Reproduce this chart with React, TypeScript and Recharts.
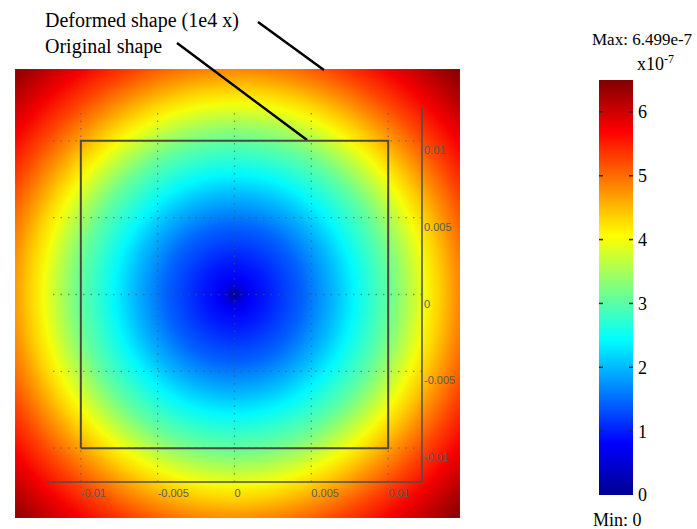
import React from 'react';
import { ComposedChart, BarChart, Bar, XAxis, YAxis, Scatter, ReferenceArea, ReferenceLine } from 'recharts';

// ---- data ----
const axisTicks = [-0.01, -0.005, 0, 0.005, 0.01];
const axisDomain = [-0.0122, 0.0122];
const originalShapeX = [-0.01, 0.01, 0.01, -0.01, -0.01];
const originalShapeY = [-0.01, -0.01, 0.01, 0.01, -0.01];
const deformedExtentX = [-0.01428, 0.01467];
const deformedExtentY = [-0.01454, 0.01467];
// radial profile of the displacement field (radius in m, value in 1e-7)
const profileRadius = [0, 0.0005, 0.001, 0.002, 0.003, 0.0045, 0.0065, 0.0078, 0.0091, 0.0101, 0.0114, 0.0124, 0.0133, 0.0144, 0.0159, 0.0176, 0.0192, 0.0207];
const profileValue = [0, 0.5, 0.75, 0.95, 1.15, 1.45, 2.0, 2.4, 2.8, 3.1, 3.6, 4.0, 4.35, 4.75, 5.25, 5.75, 6.15, 6.499];
const colorbarValues = [0, 0.81, 2.44, 4.06, 5.69, 6.499];
const colorbarColors = ['#00008f', '#0000ff', '#00ffff', '#ffff00', '#ff0000', '#800000'];
const colorbarTicks = [0, 1, 2, 3, 4, 5, 6];
const valueMax = 6.499;
const deformedPointer = [{ x: 0.00153, y: 0.01773 }, { x: 0.00582, y: 0.01461 }];
const originalPointer = [{ x: -0.00374, y: 0.01636 }, { x: 0.00472, y: 0.01005 }];

const originalShape = originalShapeX.map((x, i) => ({ x, y: originalShapeY[i] }));

function hexToRgb(h: string) {
  return [parseInt(h.slice(1, 3), 16), parseInt(h.slice(3, 5), 16), parseInt(h.slice(5, 7), 16)];
}
function colorAt(v: number) {
  let i = 0;
  while (i < colorbarValues.length - 2 && v > colorbarValues[i + 1]) i++;
  const t = Math.max(0, Math.min(1, (v - colorbarValues[i]) / (colorbarValues[i + 1] - colorbarValues[i])));
  const a = hexToRgb(colorbarColors[i]);
  const b = hexToRgb(colorbarColors[i + 1]);
  const c = a.map((ca, k) => Math.round(ca + (b[k] - ca) * t));
  return `rgb(${c[0]},${c[1]},${c[2]})`;
}

const HeatRect = (props: any) => {
  const { x, y, width, height } = props;
  const sx = width / (deformedExtentX[1] - deformedExtentX[0]);
  const sy = height / (deformedExtentY[1] - deformedExtentY[0]);
  const cx = x + (0 - deformedExtentX[0]) * sx;
  const cy = y + (deformedExtentY[1] - 0) * sy;
  const rMax = profileRadius[profileRadius.length - 1];
  const r = rMax * (sx + sy) / 2;
  return (
    <g>
      <defs>
        <radialGradient id="heatGrad" gradientUnits="userSpaceOnUse" cx={cx} cy={cy} r={r}>
          {profileRadius.map((pr, i) => (
            <stop key={i} offset={pr / rMax} stopColor={colorAt(profileValue[i])} />
          ))}
        </radialGradient>
      </defs>
      <rect x={x} y={y} width={width} height={height} fill="url(#heatGrad)" />
    </g>
  );
};

const XTick = (props: any) => {
  const { x, y, payload } = props;
  return (
    <text x={x} y={y + 15} textAnchor="start" fontFamily="'Liberation Sans', Arial, sans-serif" fontSize={11} fill="#5b5b5b">
      {String(payload.value)}
    </text>
  );
};
const YTick = (props: any) => {
  const { x, y, payload } = props;
  return (
    <text x={x} y={y + 13} textAnchor="start" fontFamily="'Liberation Sans', Arial, sans-serif" fontSize={11} fill="#5b5b5b">
      {String(payload.value)}
    </text>
  );
};

// colorbar: gradient bar with small tick dashes on both edges
const ColorbarShape = (props: any) => {
  const { x, y, width, height } = props;
  return (
    <g>
      <rect x={x} y={y} width={width} height={height} fill="url(#cbarGrad)" />
      {colorbarTicks.slice(1).map((t) => {
        const ty = y + height * (1 - t / valueMax);
        return (
          <g key={t}>
            <line x1={x} x2={x + 4} y1={ty} y2={ty} stroke="#2a2a2a" strokeWidth={1.5} />
            <line x1={x + width - 4} x2={x + width} y1={ty} y2={ty} stroke="#2a2a2a" strokeWidth={1.5} />
          </g>
        );
      })}
    </g>
  );
};

const serif = "'Liberation Serif', 'Times New Roman', serif";

export default function App() {
  return (
    <div style={{ position: 'absolute', left: 0, top: 0, width: 697, height: 529, background: '#fff' }}>
      <div style={{ position: 'absolute', left: 0, top: 0 }}>
        <ComposedChart width={697} height={529} margin={{ top: 107, right: 235, bottom: 17, left: 47 }}>
          <ReferenceArea
            x1={deformedExtentX[0]}
            x2={deformedExtentX[1]}
            y1={deformedExtentY[0]}
            y2={deformedExtentY[1]}
            ifOverflow="visible"
            shape={HeatRect}
          />
          {axisTicks.map((t) => (
            <ReferenceLine key={'gx' + t} x={t} stroke="#555" strokeWidth={1.3} strokeDasharray="1.5 6" strokeOpacity={0.6} />
          ))}
          {axisTicks.map((t) => (
            <ReferenceLine key={'gy' + t} y={t} stroke="#555" strokeWidth={1.3} strokeDasharray="1.5 6" strokeOpacity={0.6} />
          ))}
          <XAxis
            type="number"
            dataKey="x"
            domain={axisDomain}
            ticks={axisTicks}
            allowDataOverflow
            interval={0}
            height={30}
            axisLine={{ stroke: '#4d4d4d', strokeWidth: 1.5 }}
            tickLine={false}
            tickSize={0}
            tickMargin={0}
            tick={<XTick />}
          />
          <YAxis
            type="number"
            dataKey="y"
            orientation="right"
            domain={axisDomain}
            ticks={axisTicks}
            allowDataOverflow
            interval={0}
            width={40}
            axisLine={{ stroke: '#4d4d4d', strokeWidth: 1.5 }}
            tickLine={false}
            tickSize={0}
            tickMargin={2}
            tick={<YTick />}
          />
          <Scatter
            data={originalShape}
            line={{ stroke: '#4a4a40', strokeWidth: 2 }}
            shape={() => null}
            isAnimationActive={false}
          />
          <ReferenceLine segment={deformedPointer} ifOverflow="visible" stroke="#000" strokeWidth={2.5} />
          <ReferenceLine segment={originalPointer} ifOverflow="visible" stroke="#000" strokeWidth={2.5} />
        </ComposedChart>
      </div>
      <div style={{ position: 'absolute', left: 599, top: 70 }}>
        <BarChart width={64} height={440} data={[{ k: 'u', v: valueMax }]} margin={{ top: 10, right: 0, bottom: 15, left: 0 }} barCategoryGap={0}>
          <defs>
            <linearGradient id="cbarGrad" x1="0" y1="1" x2="0" y2="0">
              {colorbarValues.map((v, i) => (
                <stop key={i} offset={v / valueMax} stopColor={colorbarColors[i]} />
              ))}
            </linearGradient>
          </defs>
          <XAxis dataKey="k" hide />
          <YAxis
            orientation="right"
            type="number"
            domain={[0, valueMax]}
            ticks={colorbarTicks}
            allowDataOverflow
            interval={0}
            width={30}
            axisLine={false}
            tickLine={false}
            tickSize={0}
            tickMargin={5}
            tick={{ fontFamily: serif, fontSize: 18, fill: '#000' }}
          />
          <Bar dataKey="v" shape={ColorbarShape} isAnimationActive={false} />
        </BarChart>
      </div>
      <svg width={697} height={529} style={{ position: 'absolute', left: 0, top: 0, pointerEvents: 'none' }}>
        <text x={45} y={27} fontFamily={serif} fontSize={20} fill="#000">Deformed shape (1e4 x)</text>
        <text x={45} y={53} fontFamily={serif} fontSize={20} fill="#000">Original shape</text>
        <text x={592} y={45} fontFamily={serif} fontSize={17} fill="#000">Max: 6.499e-7</text>
        <text x={637} y={70} fontFamily={serif} fontSize={18} fill="#000">
          x10<tspan dy={-7} fontSize={12}>-7</tspan>
        </text>
        <text x={593} y={526} fontFamily={serif} fontSize={18} fill="#000">Min: 0</text>
      </svg>
    </div>
  );
}
